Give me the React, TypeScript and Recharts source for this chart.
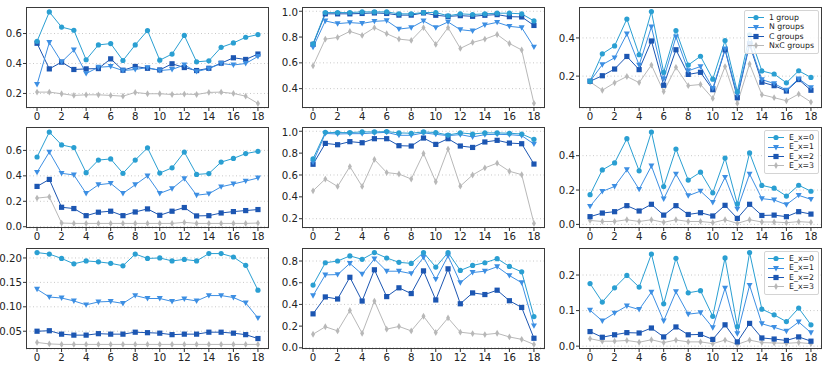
import React from "react";
import { LineChart, Line, XAxis, YAxis, CartesianGrid } from "recharts";

const steps = [0, 1, 2, 3, 4, 5, 6, 7, 8, 9, 10, 11, 12, 13, 14, 15, 16, 17, 18];
const xTicks = [0, 2, 4, 6, 8, 10, 12, 14, 16, 18];

// top row
const tlOne = [0.548, 0.744, 0.643, 0.622, 0.425, 0.524, 0.533, 0.42, 0.524, 0.62, 0.422, 0.463, 0.587, 0.411, 0.418, 0.508, 0.537, 0.575, 0.593];
const tlN = [0.26, 0.54, 0.41, 0.49, 0.333, 0.375, 0.38, 0.353, 0.36, 0.373, 0.353, 0.36, 0.39, 0.346, 0.366, 0.4, 0.39, 0.4, 0.447];
const tlC = [0.535, 0.364, 0.409, 0.36, 0.364, 0.366, 0.431, 0.355, 0.38, 0.368, 0.357, 0.398, 0.373, 0.353, 0.368, 0.402, 0.438, 0.427, 0.463];
const tlNxC = [0.209, 0.209, 0.198, 0.187, 0.191, 0.191, 0.187, 0.182, 0.207, 0.198, 0.198, 0.193, 0.196, 0.193, 0.207, 0.209, 0.2, 0.182, 0.133];

const tmOne = [0.748, 0.99, 0.99, 0.99, 0.995, 0.995, 0.995, 0.98, 0.98, 0.99, 0.99, 0.965, 0.98, 0.975, 0.98, 0.985, 0.985, 0.98, 0.925];
const tmN = [0.72, 0.925, 0.904, 0.912, 0.906, 0.922, 0.927, 0.862, 0.873, 0.925, 0.873, 0.917, 0.857, 0.847, 0.894, 0.914, 0.883, 0.873, 0.722];
const tmC = [0.743, 0.98, 0.98, 0.98, 0.983, 0.987, 0.983, 0.97, 0.97, 0.987, 0.969, 0.96, 0.966, 0.961, 0.969, 0.974, 0.958, 0.956, 0.89];
const tmNxC = [0.577, 0.784, 0.797, 0.844, 0.813, 0.873, 0.826, 0.784, 0.774, 0.873, 0.743, 0.873, 0.712, 0.758, 0.784, 0.82, 0.75, 0.7, 0.286];

const trOne = [0.173, 0.317, 0.358, 0.499, 0.312, 0.538, 0.22, 0.439, 0.258, 0.304, 0.184, 0.386, 0.119, 0.416, 0.227, 0.211, 0.165, 0.228, 0.193];
const trN = [0.173, 0.26, 0.296, 0.421, 0.258, 0.458, 0.186, 0.405, 0.228, 0.25, 0.136, 0.342, 0.103, 0.372, 0.182, 0.161, 0.127, 0.186, 0.14];
const trC = [0.173, 0.202, 0.237, 0.303, 0.234, 0.384, 0.152, 0.338, 0.209, 0.22, 0.129, 0.338, 0.087, 0.365, 0.168, 0.15, 0.122, 0.182, 0.126];
const trNxC = [0.17, 0.126, 0.165, 0.198, 0.166, 0.258, 0.119, 0.246, 0.15, 0.156, 0.083, 0.25, 0.057, 0.264, 0.103, 0.087, 0.071, 0.106, 0.064];

// middle row
const mlE1 = [0.428, 0.587, 0.42, 0.407, 0.262, 0.33, 0.341, 0.262, 0.33, 0.399, 0.262, 0.299, 0.378, 0.248, 0.259, 0.314, 0.336, 0.359, 0.383];
const mlE2 = [0.317, 0.372, 0.153, 0.143, 0.087, 0.114, 0.122, 0.087, 0.116, 0.14, 0.09, 0.122, 0.151, 0.085, 0.087, 0.108, 0.119, 0.127, 0.135];
const mlE3 = [0.225, 0.235, 0.029, 0.026, 0.026, 0.026, 0.026, 0.026, 0.026, 0.026, 0.026, 0.026, 0.034, 0.026, 0.026, 0.026, 0.026, 0.026, 0.029];

const mmE0 = [0.748, 0.99, 0.988, 0.988, 0.994, 0.994, 0.997, 0.985, 0.982, 0.994, 0.988, 0.966, 0.985, 0.975, 0.985, 0.985, 0.982, 0.975, 0.926];
const mmE1 = [0.717, 0.98, 0.975, 0.978, 0.978, 0.985, 0.99, 0.963, 0.963, 0.985, 0.972, 0.96, 0.969, 0.948, 0.969, 0.972, 0.969, 0.96, 0.883];
const mmE2 = [0.698, 0.889, 0.877, 0.905, 0.895, 0.932, 0.932, 0.868, 0.865, 0.938, 0.88, 0.932, 0.865, 0.852, 0.902, 0.917, 0.892, 0.886, 0.7];
const mmE3 = [0.455, 0.563, 0.495, 0.677, 0.495, 0.742, 0.622, 0.609, 0.563, 0.797, 0.538, 0.837, 0.498, 0.6, 0.665, 0.708, 0.634, 0.603, 0.157];

const mrE1 = [0.105, 0.192, 0.221, 0.318, 0.204, 0.34, 0.148, 0.293, 0.167, 0.194, 0.128, 0.274, 0.089, 0.293, 0.15, 0.142, 0.115, 0.169, 0.146];
const mrE2 = [0.045, 0.066, 0.074, 0.109, 0.078, 0.117, 0.054, 0.109, 0.058, 0.068, 0.049, 0.111, 0.035, 0.117, 0.052, 0.054, 0.045, 0.074, 0.06];
const mrE3 = [0.023, 0.017, 0.017, 0.027, 0.017, 0.027, 0.012, 0.027, 0.017, 0.017, 0.01, 0.027, 0.006, 0.027, 0.014, 0.014, 0.01, 0.016, 0.012];

// bottom row
const blE0 = [0.211, 0.208, 0.199, 0.188, 0.194, 0.192, 0.189, 0.184, 0.208, 0.199, 0.2, 0.194, 0.197, 0.194, 0.209, 0.209, 0.202, 0.185, 0.134];
const blE1 = [0.136, 0.12, 0.118, 0.112, 0.104, 0.11, 0.111, 0.107, 0.123, 0.117, 0.117, 0.111, 0.116, 0.112, 0.123, 0.123, 0.119, 0.108, 0.077];
const blE2 = [0.05, 0.051, 0.044, 0.042, 0.042, 0.045, 0.044, 0.044, 0.048, 0.047, 0.046, 0.043, 0.044, 0.044, 0.048, 0.048, 0.046, 0.043, 0.035];
const blE3 = [0.027, 0.024, 0.023, 0.023, 0.023, 0.023, 0.023, 0.023, 0.023, 0.023, 0.023, 0.023, 0.023, 0.023, 0.023, 0.023, 0.023, 0.023, 0.023];

const bmE0 = [0.578, 0.784, 0.8, 0.847, 0.816, 0.878, 0.828, 0.788, 0.778, 0.878, 0.744, 0.878, 0.713, 0.759, 0.784, 0.822, 0.75, 0.7, 0.288];
const bmE1 = [0.481, 0.672, 0.675, 0.778, 0.678, 0.819, 0.706, 0.706, 0.684, 0.834, 0.631, 0.847, 0.6, 0.694, 0.706, 0.747, 0.666, 0.6, 0.203];
const bmE2 = [0.313, 0.469, 0.45, 0.65, 0.431, 0.719, 0.472, 0.553, 0.5, 0.709, 0.441, 0.728, 0.406, 0.506, 0.491, 0.531, 0.434, 0.372, 0.088];
const bmE3 = [0.125, 0.194, 0.156, 0.344, 0.134, 0.431, 0.172, 0.197, 0.156, 0.291, 0.141, 0.275, 0.144, 0.131, 0.122, 0.134, 0.1, 0.078, 0.031];

const brE0 = [0.176, 0.124, 0.164, 0.199, 0.166, 0.259, 0.119, 0.247, 0.15, 0.156, 0.084, 0.248, 0.055, 0.263, 0.104, 0.088, 0.069, 0.107, 0.06];
const brE1 = [0.101, 0.071, 0.093, 0.113, 0.103, 0.152, 0.071, 0.153, 0.09, 0.094, 0.052, 0.163, 0.035, 0.171, 0.063, 0.053, 0.042, 0.068, 0.038];
const brE2 = [0.041, 0.025, 0.032, 0.038, 0.037, 0.051, 0.026, 0.054, 0.032, 0.033, 0.019, 0.06, 0.012, 0.064, 0.023, 0.02, 0.016, 0.026, 0.014];
const brE3 = [0.021, 0.014, 0.014, 0.016, 0.011, 0.018, 0.01, 0.017, 0.012, 0.012, 0.007, 0.017, 0.005, 0.017, 0.01, 0.009, 0.008, 0.01, 0.007];

const groupLabels = ["1 group", "N groups", "C groups", "NxC groups"];
const exLabels = ["E_x=0", "E_x=1", "E_x=2", "E_x=3"];

const COLORS = ["#2a9fd2", "#3d8fe3", "#1c56b2", "#b8b8b8"];
const SHAPES = ["circle", "triDown", "square", "diamond"];

const COL_X = [26, 302, 579];
const ROW_Y = [7, 127, 248];
const PLOT_W = 243;
const PLOT_H = 101;
const YW = 40;
const XH = 22;
const FONT = "'DejaVu Sans', sans-serif";
const TICK_FONT = 10.2;

function Marker({ shape, cx, cy, color }: any) {
  if (shape === "circle") return <circle cx={cx} cy={cy} r={2.6} fill={color} />;
  if (shape === "triDown")
    return <polygon points={`${cx - 3},${cy - 2.4} ${cx + 3},${cy - 2.4} ${cx},${cy + 3}`} fill={color} />;
  if (shape === "square") return <rect x={cx - 2.6} y={cy - 2.6} width={5.2} height={5.2} fill={color} />;
  return <polygon points={`${cx},${cy - 3.4} ${cx + 2},${cy} ${cx},${cy + 3.4} ${cx - 2},${cy}`} fill={color} />;
}

const dotFor = (i: number) => (props: any) => {
  const { cx, cy, index } = props;
  if (cx == null || cy == null) return <g key={index} />;
  return <Marker key={index} shape={SHAPES[i]} cx={cx} cy={cy} color={COLORS[i]} />;
};

type PanelProps = {
  col: number;
  row: number;
  series: number[][];
  domain: [number, number];
  ticks: number[];
  digits: number;
  labels?: string[];
};

function Panel({ col, row, series, domain, ticks, digits, labels }: PanelProps) {
  const data = steps.map((x, k) => ({ x, s0: series[0][k], s1: series[1][k], s2: series[2][k], s3: series[3][k] }));
  const left = COL_X[col];
  const top = ROW_Y[row];
  // gray first, cyan on top
  const order = [3, 2, 1, 0];
  return (
    <>
      <div style={{ position: "absolute", left: left - YW, top }}>
        <LineChart width={PLOT_W + YW} height={PLOT_H + XH} data={data} margin={{ top: 0, right: 0, bottom: 0, left: 0 }}>
          <CartesianGrid vertical={false} stroke="#c9c9c9" strokeDasharray="1 2.5" />
          <XAxis
            type="number"
            dataKey="x"
            domain={[-0.9, 18.9]}
            ticks={xTicks}
            allowDataOverflow
            axisLine={false}
            tickSize={3}
            tickLine={{ stroke: "#333" }}
            height={XH}
            tick={{ fontSize: TICK_FONT, fill: "#222", fontFamily: FONT }}
          />
          <YAxis
            type="number"
            domain={domain}
            ticks={ticks}
            allowDataOverflow
            axisLine={false}
            tickSize={3}
            tickMargin={1}
            tickLine={{ stroke: "#333" }}
            width={YW}
            tickFormatter={(v: number) => v.toFixed(digits)}
            tick={{ fontSize: TICK_FONT, fill: "#222", fontFamily: FONT }}
          />
          {order.map((i) => (
            <Line
              key={i}
              dataKey={`s${i}`}
              stroke={COLORS[i]}
              strokeWidth={1}
              dot={dotFor(i)}
              activeDot={false}
              isAnimationActive={false}
            />
          ))}
        </LineChart>
      </div>
      <div
        style={{
          position: "absolute",
          left,
          top,
          width: PLOT_W,
          height: PLOT_H,
          border: "1px solid #3a3a3a",
          boxSizing: "border-box",
          pointerEvents: "none",
        }}
      />
      {labels && (
        <div
          style={{
            position: "absolute",
            right: 830 - (left + PLOT_W) + 3,
            top: top + 3,
            border: "1px solid #d4d4d4",
            borderRadius: 2,
            background: "rgba(255,255,255,0.85)",
            padding: "2px 4px 2px 2px",
            fontFamily: FONT,
            fontSize: 7.8,
            color: "#222",
            lineHeight: "9.4px",
          }}
        >
          {labels.map((lab, i) => (
            <div key={lab} style={{ display: "flex", alignItems: "center" }}>
              <svg width={18} height={9} style={{ marginRight: 4 }}>
                <line x1={1} y1={4.5} x2={17} y2={4.5} stroke={COLORS[i]} strokeWidth={1} />
                <Marker shape={SHAPES[i]} cx={9} cy={4.5} color={COLORS[i]} />
              </svg>
              <span>{lab}</span>
            </div>
          ))}
        </div>
      )}
    </>
  );
}

export default function App() {
  return (
    <div style={{ position: "absolute", left: 0, top: 0, width: 830, height: 369, background: "#fff", overflow: "hidden" }}>
      <Panel col={0} row={0} series={[tlOne, tlN, tlC, tlNxC]} domain={[0.103, 0.777]} ticks={[0.2, 0.4, 0.6]} digits={1} />
      <Panel col={1} row={0} series={[tmOne, tmN, tmC, tmNxC]} domain={[0.25, 1.033]} ticks={[0.4, 0.6, 0.8, 1.0]} digits={1} />
      <Panel col={2} row={0} series={[trOne, trN, trC, trNxC]} domain={[0.033, 0.562]} ticks={[0.2, 0.4]} digits={1} labels={groupLabels} />

      <Panel col={0} row={1} series={[tlOne, mlE1, mlE2, mlE3]} domain={[-0.01, 0.784]} ticks={[0, 0.2, 0.4, 0.6]} digits={1} />
      <Panel col={1} row={1} series={[mmE0, mmE1, mmE2, mmE3]} domain={[0.115, 1.039]} ticks={[0.2, 0.4, 0.6, 0.8, 1.0]} digits={1} />
      <Panel col={2} row={1} series={[trOne, mrE1, mrE2, mrE3]} domain={[-0.021, 0.567]} ticks={[0, 0.2, 0.4]} digits={1} labels={exLabels} />

      <Panel col={0} row={2} series={[blE0, blE1, blE2, blE3]} domain={[0.0136, 0.2204]} ticks={[0.05, 0.1, 0.15, 0.2]} digits={2} />
      <Panel col={1} row={2} series={[bmE0, bmE1, bmE2, bmE3]} domain={[-0.011, 0.92]} ticks={[0, 0.2, 0.4, 0.6, 0.8]} digits={1} />
      <Panel col={2} row={2} series={[brE0, brE1, brE2, brE3]} domain={[-0.008, 0.276]} ticks={[0, 0.1, 0.2]} digits={1} labels={exLabels} />
    </div>
  );
}
